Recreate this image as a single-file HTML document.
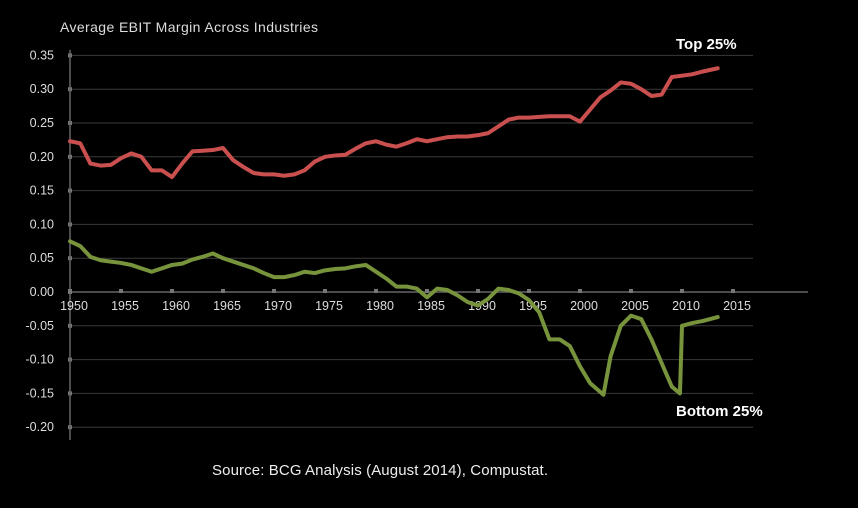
<!DOCTYPE html>
<html><head><meta charset="utf-8"><style>
body{margin:0;background:#000;width:858px;height:503px;overflow:hidden;font-family:"Liberation Sans",sans-serif}
</style></head><body>
<svg id="chart" width="858" height="503" xmlns="http://www.w3.org/2000/svg">
<rect width="858" height="503" fill="#000"/>
<text x="60" y="32" fill="#ddd" font-size="14" textLength="258">Average EBIT Margin Across Industries</text>
<g id="grid"></g><g id="axes"></g><g id="series"></g>
<text x="676" y="49" fill="#fff" font-size="15" font-weight="bold">Top 25%</text>
<text x="676" y="416" fill="#fff" font-size="15" font-weight="bold">Bottom 25%</text>
<text x="212" y="475" fill="#eee" font-size="15" textLength="336">Source: BCG Analysis (August 2014), Compustat.</text>
</svg>
<script>
const years=[1950,1951,1952,1953,1954,1955,1956,1957,1958,1959,1960,1961,1962,1963,1964,1965,1966,1967,1968,1969,1970,1971,1972,1973,1974,1975,1976,1977,1978,1979,1980,1981,1982,1983,1984,1985,1986,1987,1988,1989,1990,1991,1992,1993,1994,1995,1996,1997,1998,1999,2000,2001,2002,2003,2004,2005,2006,2007,2008,2009,2010,2011,2012,2013.5];
const topValues=[.223,.22,.19,.187,.188,.198,.205,.2,.18,.18,.17,.19,.208,.209,.21,.213,.195,.185,.176,.174,.174,.172,.174,.18,.193,.2,.202,.203,.212,.22,.223,.218,.215,.22,.226,.223,.226,.229,.23,.23,.232,.235,.245,.255,.258,.258,.259,.26,.26,.26,.252,.27,.288,.298,.31,.308,.3,.29,.292,.318,.32,.322,.326,.331];
const bottomYears=[1950,1951,1952,1953,1954,1955,1956,1957,1958,1959,1960,1961,1962,1963,1964,1965,1966,1967,1968,1969,1970,1971,1972,1973,1974,1975,1976,1977,1978,1979,1980,1981,1982,1983,1984,1985,1986,1987,1988,1989,1990,1991,1992,1993,1994,1995,1996,1997,1998,1999,2000,2001,2002.3,2003,2004,2005,2006,2007,2008,2009,2009.8,2010,2011,2012,2013.5];
const bottomValues=[.075,.068,.052,.047,.045,.043,.04,.035,.03,.035,.04,.042,.048,.052,.057,.05,.045,.04,.035,.028,.022,.022,.025,.03,.028,.032,.034,.035,.038,.04,.03,.02,.008,.008,.005,-.008,.005,.003,-.005,-.015,-.02,-.01,.005,.003,-.002,-.012,-.03,-.07,-.07,-.08,-.11,-.135,-.152,-.095,-.05,-.035,-.04,-.07,-.105,-.14,-.15,-.05,-.046,-.043,-.037];
const yTicks=[.35,.3,.25,.2,.15,.1,.05,0,-.05,-.1,-.15,-.2];
const yTickLabels=["0.35","0.30","0.25","0.20","0.15","0.10","0.05","0.00","-0.05","-0.10","-0.15","-0.20"];
const xTicks=[1950,1955,1960,1965,1970,1975,1980,1985,1990,1995,2000,2005,2010,2015];
const NS="http://www.w3.org/2000/svg";
const x=y=>70+(y-1950)*10.2;
const yS=v=>292-v*676;
function mk(t,a,p){const e=document.createElementNS(NS,t);for(const k in a)e.setAttribute(k,a[k]);p.appendChild(e);return e;}
const grid=document.getElementById('grid'),axes=document.getElementById('axes'),ser=document.getElementById('series');
yTicks.forEach((v,i)=>{
  if(v!==0){const l=mk('line',{x1:70,x2:753,y1:yS(v),y2:yS(v),stroke:'#3a3a3a','stroke-width':1},grid);
  
  }
  const m=mk('rect',{x:68,y:yS(v)-2,width:4,height:4,fill:'#777'},axes);
  
  
  const t=mk('text',{x:54,y:yS(v)+4,fill:'#ddd','font-size':12.5,'text-anchor':'end'},axes);
  
  
  t.textContent=yTickLabels[i];
});
const ax=mk('line',{x1:70,x2:70,y1:50,y2:440,stroke:'#666','stroke-width':1.5},axes);


const xa=mk('line',{x1:70,x2:808,y1:yS(0),y2:yS(0),stroke:'#666','stroke-width':1.5},axes);


xTicks.forEach(yr=>{
  const m=mk('rect',{x:x(yr)-2,y:yS(0)-3,width:4,height:4,fill:'#777'},axes);
  
  
  const t=mk('text',{x:x(yr)+4,y:310,fill:'#ddd','font-size':12.5,'text-anchor':'middle'},axes);
  
  
  t.textContent=yr;
});
const p1=mk('polyline',{points:years.map((yr,i)=>x(yr)+','+yS(topValues[i])).join(' '),fill:'none',stroke:'#c9504f','stroke-width':4,'stroke-linejoin':'round','stroke-linecap':'round'},ser);


const p2=mk('polyline',{points:bottomYears.map((yr,i)=>x(yr)+','+yS(bottomValues[i])).join(' '),fill:'none',stroke:'#77933c','stroke-width':4,'stroke-linejoin':'round','stroke-linecap':'round'},ser);


</script>
</body></html>
